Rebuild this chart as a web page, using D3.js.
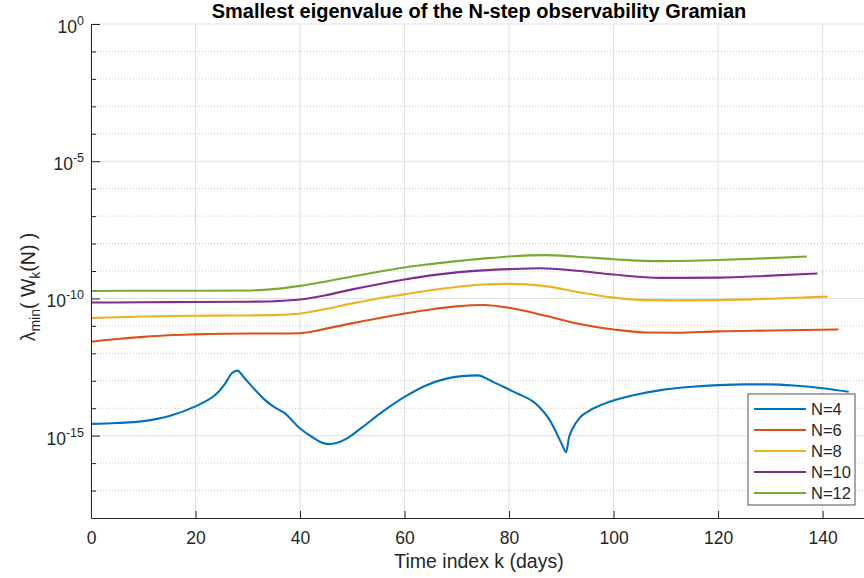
<!DOCTYPE html>
<html>
<head>
<meta charset="utf-8">
<script src="https://cdnjs.cloudflare.com/ajax/libs/d3/7.8.5/d3.min.js"></script>
<style>
  body { margin: 0; background: #fff; }
  text { font-family: "Liberation Sans", Arial, Helvetica, sans-serif; fill: #262626; }
</style>
</head>
<body>
<script>
// values (log axis)
var daysN4 = [0, 5, 10, 15, 20, 22, 23.7, 25.6, 27, 28, 29.2, 31, 33, 35, 37, 40, 42.5, 44, 45.5, 47, 49, 52, 56, 60, 64, 68, 71, 74,
              77, 80, 82, 84.7, 86.5, 88, 89.2, 90.2, 90.9, 91.5, 92, 93.5, 95, 97, 100, 104, 109, 115, 120, 125, 130, 135, 140, 145];
var valsN4 = [2.69e-15, 2.88e-15, 3.39e-15, 5.25e-15, 1.17e-14, 1.82e-14, 2.95e-14, 7.59e-14, 1.91e-13, 2.34e-13, 1.38e-13,
              5.62e-14, 2.24e-14, 1.12e-14, 6.76e-15, 1.82e-15, 8.51e-16, 5.75e-16, 4.90e-16, 5.37e-16, 7.94e-16, 2.09e-15,
              7.94e-15, 2.57e-14, 6.61e-14, 1.20e-13, 1.48e-13, 1.58e-13, 8.91e-14, 4.79e-14, 3.16e-14, 1.70e-14, 7.94e-15,
              3.16e-15, 1.12e-15, 4.47e-16, 2.51e-16, 8.91e-16, 1.58e-15, 4.47e-15, 7.41e-15, 1.17e-14, 1.91e-14, 3.02e-14,
              4.57e-14, 6.03e-14, 6.92e-14, 7.41e-14, 7.41e-14, 6.61e-14, 5.37e-14, 3.98e-14];

var daysN6 = [0, 5, 10, 15, 20, 30, 38, 42, 45, 50, 55, 60, 65, 70, 75, 80, 87, 93, 100, 106, 112, 120, 130, 143];
var valsN6 = [2.63e-12, 3.31e-12, 3.98e-12, 4.57e-12, 4.90e-12, 5.25e-12, 5.25e-12, 6.03e-12, 7.94e-12, 1.26e-11, 1.91e-11,
              2.82e-11, 3.98e-11, 5.13e-11, 5.75e-11, 4.57e-11, 2.34e-11, 1.23e-11, 7.41e-12, 5.75e-12, 5.62e-12, 6.31e-12,
              6.76e-12, 7.41e-12];

var daysN8 = [0, 10, 20, 30, 36, 40, 45, 50, 55, 60, 65, 70, 75, 80, 87, 93, 100, 106, 112, 120, 130, 141];
var valsN8 = [1.95e-11, 2.19e-11, 2.34e-11, 2.40e-11, 2.51e-11, 2.82e-11, 4.17e-11, 6.61e-11, 1.00e-10, 1.41e-10, 2.00e-10,
              2.63e-10, 3.24e-10, 3.39e-10, 2.82e-10, 1.74e-10, 1.07e-10, 8.71e-11, 8.51e-11, 8.71e-11, 9.77e-11, 1.17e-10];

var daysN10 = [0, 10, 20, 30, 35, 40, 45, 50, 55, 60, 65, 70, 75, 80, 86, 93, 100, 109, 120, 130, 139];
var valsN10 = [7.08e-11, 7.24e-11, 7.41e-11, 7.59e-11, 7.94e-11, 9.12e-11, 1.32e-10, 2.14e-10, 3.31e-10, 4.90e-10, 6.92e-10,
               8.91e-10, 1.05e-9, 1.17e-9, 1.26e-9, 1.02e-9, 7.41e-10, 5.62e-10, 5.75e-10, 6.76e-10, 8.13e-10];

var daysN12 = [0, 10, 20, 30, 35, 40, 45, 50, 55, 60, 65, 70, 75, 80, 87, 93, 100, 109, 120, 130, 137];
var valsN12 = [1.86e-10, 1.91e-10, 1.91e-10, 1.95e-10, 2.19e-10, 2.88e-10, 4.17e-10, 6.31e-10, 9.33e-10, 1.35e-9, 1.78e-9,
               2.29e-9, 2.82e-9, 3.39e-9, 3.80e-9, 3.31e-9, 2.69e-9, 2.29e-9, 2.51e-9, 2.95e-9, 3.39e-9];

var seriesNames = ['N=4', 'N=6', 'N=8', 'N=10', 'N=12'];
var colors = ['#0072BD', '#D95319', '#EDB120', '#7E2F8E', '#77AC30'];
var xTicks = [0, 20, 40, 60, 80, 100, 120, 140];
var yMajor = [1e0, 1e-5, 1e-10, 1e-15];
var yMajorExp = ['0', '-5', '-10', '-15'];
var yMinor = [1e-1, 1e-2, 1e-3, 1e-4, 1e-6, 1e-7, 1e-8, 1e-9, 1e-11, 1e-12, 1e-13, 1e-14, 1e-16, 1e-17];

var series = [
  {name: seriesNames[0], days: daysN4, vals: valsN4},
  {name: seriesNames[1], days: daysN6, vals: valsN6},
  {name: seriesNames[2], days: daysN8, vals: valsN8},
  {name: seriesNames[3], days: daysN10, vals: valsN10},
  {name: seriesNames[4], days: daysN12, vals: valsN12}
];

// plot box (right edge runs a little past the window, as in the reference)
var W = 864, H = 578,
    pL = 91, pT = 24, pR = 867, pB = 518;

var svg = d3.select('body').append('svg')
    .attr('width', W)
    .attr('height', H);

var x = d3.scaleLinear().domain([0, 148.5]).range([pL, pR]);
var y = d3.scaleLog().domain([1e-18, 1]).range([pB, pT]);

// grid
var grid = svg.append('g');
grid.selectAll('line.vx')
    .data(xTicks)
    .enter().append('line')
    .attr('x1', function(d){ return x(d); })
    .attr('x2', function(d){ return x(d); })
    .attr('y1', pT).attr('y2', pB)
    .attr('stroke', '#dfdfdf').attr('stroke-width', 1);
grid.selectAll('line.hmaj')
    .data(yMajor)
    .enter().append('line')
    .attr('x1', pL).attr('x2', pR)
    .attr('y1', function(d){ return y(d); })
    .attr('y2', function(d){ return y(d); })
    .attr('stroke', '#dfdfdf').attr('stroke-width', 1);
grid.selectAll('line.hmin')
    .data(yMinor)
    .enter().append('line')
    .attr('x1', pL).attr('x2', pR)
    .attr('y1', function(d){ return y(d); })
    .attr('y2', function(d){ return y(d); })
    .attr('stroke', '#c4c4c4').attr('stroke-width', 1)
    .attr('stroke-dasharray', '1,2');

svg.append('clipPath').attr('id', 'clip')
  .append('rect')
    .attr('x', pL).attr('y', pT)
    .attr('width', pR - pL).attr('height', pB - pT);

// curves
var line = d3.line()
    .x(function(d){ return x(d[0]); })
    .y(function(d){ return y(d[1]); })
    .curve(d3.curveMonotoneX);

svg.append('g').attr('clip-path', 'url(#clip)')
  .selectAll('path')
    .data(series)
    .enter().append('path')
    .attr('d', function(s){ return line(d3.zip(s.days, s.vals)); })
    .attr('fill', 'none')
    .attr('stroke', function(s, i){ return colors[i]; })
    .attr('stroke-width', 2.1)
    .attr('stroke-linejoin', 'round');

// axes (ticks point inward like matlab)
var xAxis = d3.axisBottom(x)
    .tickValues(xTicks)
    .tickSizeInner(-7)
    .tickSizeOuter(0)
    .tickPadding(14);
var gx = svg.append('g')
    .attr('transform', 'translate(0,' + pB + ')')
    .call(xAxis);
gx.selectAll('text').attr('font-size', 17.5).style('fill', '#262626');

var gyMinor = svg.append('g')
    .attr('transform', 'translate(' + pL + ',0)')
    .call(d3.axisLeft(y).tickValues(yMinor).tickSizeInner(-5).tickSizeOuter(0).tickFormat(''));
gyMinor.select('.domain').remove();

var gy = svg.append('g')
    .attr('transform', 'translate(' + pL + ',0)')
    .call(d3.axisLeft(y).tickValues(yMajor).tickSizeInner(-9).tickSizeOuter(0).tickFormat(''));

svg.selectAll('.domain, .tick line').attr('stroke', '#262626');

// y tick labels as 10^n
var yl = svg.append('g').selectAll('text')
    .data(yMajor)
    .enter().append('text')
    .attr('x', pL - 7)
    .attr('y', function(d){ return y(d) + 9; })
    .attr('text-anchor', 'end')
    .attr('font-size', 17.5);
yl.append('tspan').text('10');
yl.append('tspan')
    .attr('dy', -8)
    .attr('font-size', 12.5)
    .text(function(d, i){ return yMajorExp[i]; });

// title and labels
svg.append('text')
    .attr('x', (pL + pR) / 2)
    .attr('y', 18)
    .attr('text-anchor', 'middle')
    .attr('font-size', 20)
    .attr('font-weight', 'bold')
    .style('fill', '#000')
    .text('Smallest eigenvalue of the N-step observability Gramian');

svg.append('text')
    .attr('x', (pL + pR) / 2)
    .attr('y', 568)
    .attr('text-anchor', 'middle')
    .attr('font-size', 19.5)
    .text('Time index k (days)');

var ylab = svg.append('text')
    .attr('transform', 'translate(35,287) rotate(-90)')
    .attr('text-anchor', 'middle')
    .attr('font-size', 19.5);
ylab.append('tspan').text('\u03bb');
ylab.append('tspan').attr('dy', 5).attr('font-size', 14).text('min');
ylab.append('tspan').attr('dy', -5).text('( W');
ylab.append('tspan').attr('dy', 5).attr('font-size', 14).text('k');
ylab.append('tspan').attr('dy', -5).text('(N) )');

// legend
var lg = svg.append('g');
lg.append('rect')
    .attr('x', 748).attr('y', 394)
    .attr('width', 107).attr('height', 111)
    .attr('fill', '#fff')
    .attr('stroke', '#262626')
    .attr('stroke-width', 0.8);
var items = lg.selectAll('g.item')
    .data(seriesNames)
    .enter().append('g')
    .attr('transform', function(d, i){ return 'translate(0,' + (409 + i * 21) + ')'; });
items.append('line')
    .attr('x1', 754).attr('x2', 806)
    .attr('y1', 0).attr('y2', 0)
    .attr('stroke', function(d, i){ return colors[i]; })
    .attr('stroke-width', 2.1);
items.append('text')
    .attr('x', 811)
    .attr('y', 6)
    .attr('font-size', 16.5)
    .text(function(d){ return d; });
</script>
</body>
</html>
